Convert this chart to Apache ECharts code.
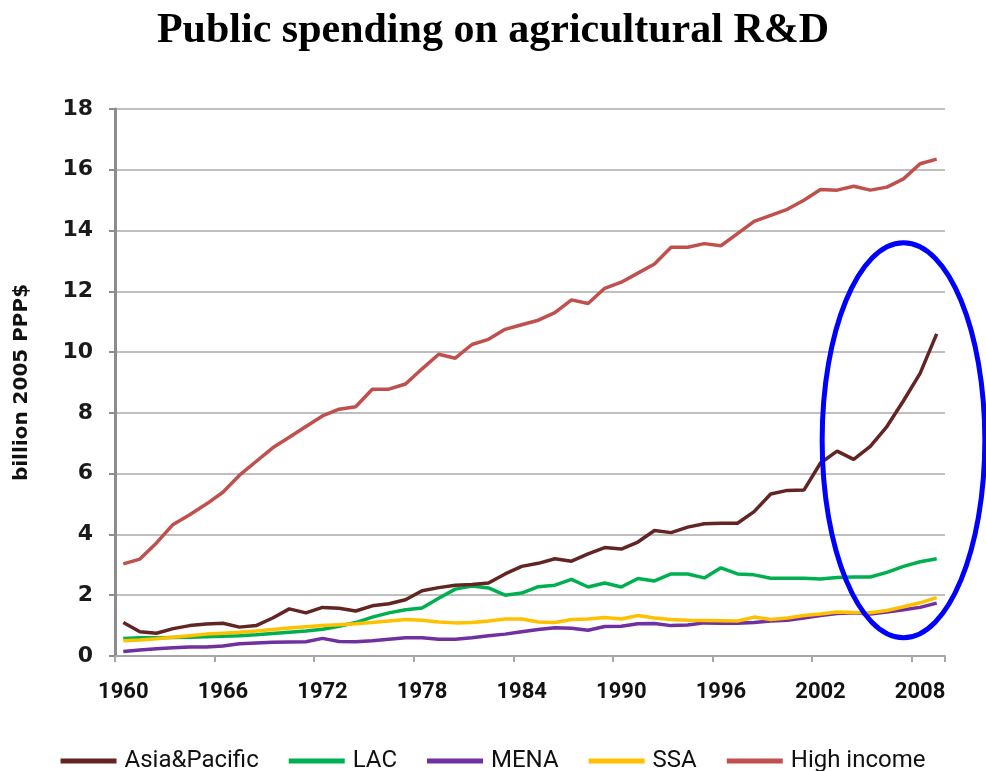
<!DOCTYPE html>
<html>
<head>
<meta charset="utf-8">
<title>Public spending on agricultural R&amp;D</title>
<script src="https://cdn.jsdelivr.net/npm/echarts@6/dist/echarts.min.js"></script>
<style>
  html, body { margin: 0; padding: 0; background: #fff; }
  #chart { width: 986px; height: 771px; }
</style>
</head>
<body>
<div id="chart"></div>
<script>
// ── Data (billion 2005 PPP$) ────────────────────────────────────────────────
const years = [
  '1960','1961','1962','1963','1964','1965','1966','1967','1968','1969',
  '1970','1971','1972','1973','1974','1975','1976','1977','1978','1979',
  '1980','1981','1982','1983','1984','1985','1986','1987','1988','1989',
  '1990','1991','1992','1993','1994','1995','1996','1997','1998','1999',
  '2000','2001','2002','2003','2004','2005','2006','2007','2008','2009'
];

const asiaPacific = [
  1.10, 0.80, 0.75, 0.90, 1.00, 1.05, 1.08, 0.95, 1.00, 1.25,
  1.55, 1.42, 1.60, 1.57, 1.48, 1.65, 1.72, 1.85, 2.15, 2.25,
  2.33, 2.35, 2.40, 2.70, 2.95, 3.05, 3.20, 3.12, 3.36, 3.57,
  3.52, 3.75, 4.13, 4.06, 4.24, 4.35, 4.37, 4.37, 4.75, 5.33,
  5.45, 5.46, 6.35, 6.74, 6.47, 6.90, 7.55, 8.40, 9.30, 10.60
];

const lac = [
  0.58, 0.60, 0.60, 0.61, 0.62, 0.63, 0.65, 0.67, 0.70, 0.74,
  0.78, 0.82, 0.88, 0.98, 1.10, 1.28, 1.42, 1.52, 1.58, 1.90,
  2.20, 2.30, 2.24, 2.00, 2.07, 2.28, 2.33, 2.52, 2.27, 2.40,
  2.27, 2.55, 2.47, 2.70, 2.70, 2.57, 2.90, 2.70, 2.67, 2.56,
  2.56, 2.56, 2.53, 2.58, 2.60, 2.60, 2.75, 2.95, 3.10, 3.20
];

const mena = [
  0.15, 0.20, 0.24, 0.27, 0.30, 0.30, 0.33, 0.40, 0.43, 0.45,
  0.46, 0.47, 0.58, 0.48, 0.47, 0.50, 0.55, 0.60, 0.60, 0.55,
  0.55, 0.60, 0.67, 0.72, 0.80, 0.87, 0.93, 0.91, 0.85, 0.97,
  0.98, 1.06, 1.07, 1.00, 1.02, 1.09, 1.08, 1.08, 1.10, 1.15,
  1.18, 1.25, 1.33, 1.40, 1.42, 1.38, 1.45, 1.52, 1.60, 1.74
];

const ssa = [
  0.50, 0.53, 0.57, 0.62, 0.67, 0.72, 0.75, 0.78, 0.82, 0.87,
  0.92, 0.96, 1.00, 1.03, 1.06, 1.10, 1.15, 1.20, 1.18, 1.12,
  1.09, 1.10, 1.15, 1.22, 1.22, 1.12, 1.10, 1.20, 1.22, 1.27,
  1.22, 1.33, 1.25, 1.20, 1.18, 1.17, 1.16, 1.15, 1.28, 1.20,
  1.25, 1.33, 1.38, 1.45, 1.43, 1.42, 1.50, 1.62, 1.75, 1.92
];

const highIncome = [
  3.03, 3.19, 3.72, 4.33, 4.65, 5.00, 5.39, 5.95, 6.40, 6.85,
  7.20, 7.55, 7.90, 8.12, 8.20, 8.78, 8.78, 8.95, 9.45, 9.93,
  9.80, 10.25, 10.42, 10.75, 10.90, 11.05, 11.30, 11.72, 11.60, 12.10,
  12.30, 12.60, 12.90, 13.45, 13.45, 13.57, 13.50, 13.90, 14.30, 14.50,
  14.70, 15.00, 15.35, 15.33, 15.46, 15.33, 15.43, 15.70, 16.20, 16.35
];

const seriesNames = ['Asia&Pacific', 'LAC', 'MENA', 'SSA', 'High income'];
const seriesData = [asiaPacific, lac, mena, ssa, highIncome];
const seriesColors = ['#632523', '#00b050', '#7030a0', '#ffc000', '#c0504d'];

// highlight ellipse around the recent Asia&Pacific surge (in data units)
const highlightCenter = ['2007', 7.1];
const highlightRadiusY = 6.5;   // value units
const highlightRadiusX = 4.9;   // years

// ── Chart ───────────────────────────────────────────────────────────────────
const chart = echarts.init(document.getElementById('chart'));

const narrow = "'Liberation Sans Narrow', 'Roboto', sans-serif";

const option = {
  animation: false,
  title: {
    text: 'Public spending on agricultural R&D',
    left: 'center',
    top: 5,
    textStyle: {
      fontFamily: "'Liberation Serif', 'DejaVu Serif', serif",
      fontSize: 42,
      fontWeight: 'bold',
      color: '#000'
    }
  },
  grid: { left: 115, right: 41, top: 109, bottom: 115 },
  legend: {
    top: 744,
    left: 'center',
    icon: 'rect',
    itemWidth: 56,
    itemHeight: 5,
    itemGap: 30,
    textStyle: { fontFamily: narrow, fontSize: 24, color: '#111', padding: [0, 0, 0, 3] },
    data: seriesNames
  },
  xAxis: {
    type: 'category',
    data: years,
    boundaryGap: true,
    axisLine: { lineStyle: { color: '#a6a6a6', width: 2 } },
    axisTick: { show: true, interval: 5, length: 6, lineStyle: { color: '#a6a6a6', width: 2 } },
    axisLabel: {
      interval: 5,
      margin: 25,
      fontFamily: narrow,
      fontSize: 22,
      fontWeight: 'bold',
      color: '#111'
    }
  },
  yAxis: {
    type: 'value',
    min: 0,
    max: 18,
    interval: 2,
    name: 'billion 2005 PPP$',
    nameLocation: 'middle',
    nameGap: 83,
    nameTextStyle: { fontFamily: "'DejaVu Sans', sans-serif", fontSize: 20, fontWeight: 'bold', color: '#111' },
    axisLine: { show: true, lineStyle: { color: '#8c8c8c', width: 3 } },
    axisTick: { show: true, length: 6, lineStyle: { color: '#8c8c8c', width: 2 } },
    axisLabel: {
      margin: 22,
      fontFamily: "'DejaVu Sans', sans-serif",
      fontSize: 22,
      fontWeight: 'bold',
      color: '#1a1a1a'
    },
    splitLine: { lineStyle: { color: '#bfbfbf', width: 2 } }
  },
  series: seriesNames.map((name, i) => ({
    name,
    type: 'line',
    data: seriesData[i],
    symbol: 'none',
    color: seriesColors[i],
    lineStyle: { width: 3.5, color: seriesColors[i] },
    z: i === 0 ? 4 : 3
  }))
};

chart.setOption(option);

// ── Highlight ellipse, placed through the axes ─────────────────────────────
const centerPx = chart.convertToPixel({ gridIndex: 0 }, highlightCenter);
const topPx = chart.convertToPixel({ gridIndex: 0 }, ['2007', highlightCenter[1] + highlightRadiusY]);
const yr0 = chart.convertToPixel({ xAxisIndex: 0 }, '2002');
const yr1 = chart.convertToPixel({ xAxisIndex: 0 }, '2007');
const ellRx = Math.abs(yr1 - yr0) * highlightRadiusX / 5;
const ellRy = Math.abs(centerPx[1] - topPx[1]);

chart.setOption({
  graphic: [{
    type: 'ellipse',
    shape: { cx: centerPx[0], cy: centerPx[1], rx: ellRx, ry: ellRy },
    style: { fill: null, stroke: '#0000ff', lineWidth: 5 },
    z: 100
  }]
});
</script>
</body>
</html>
